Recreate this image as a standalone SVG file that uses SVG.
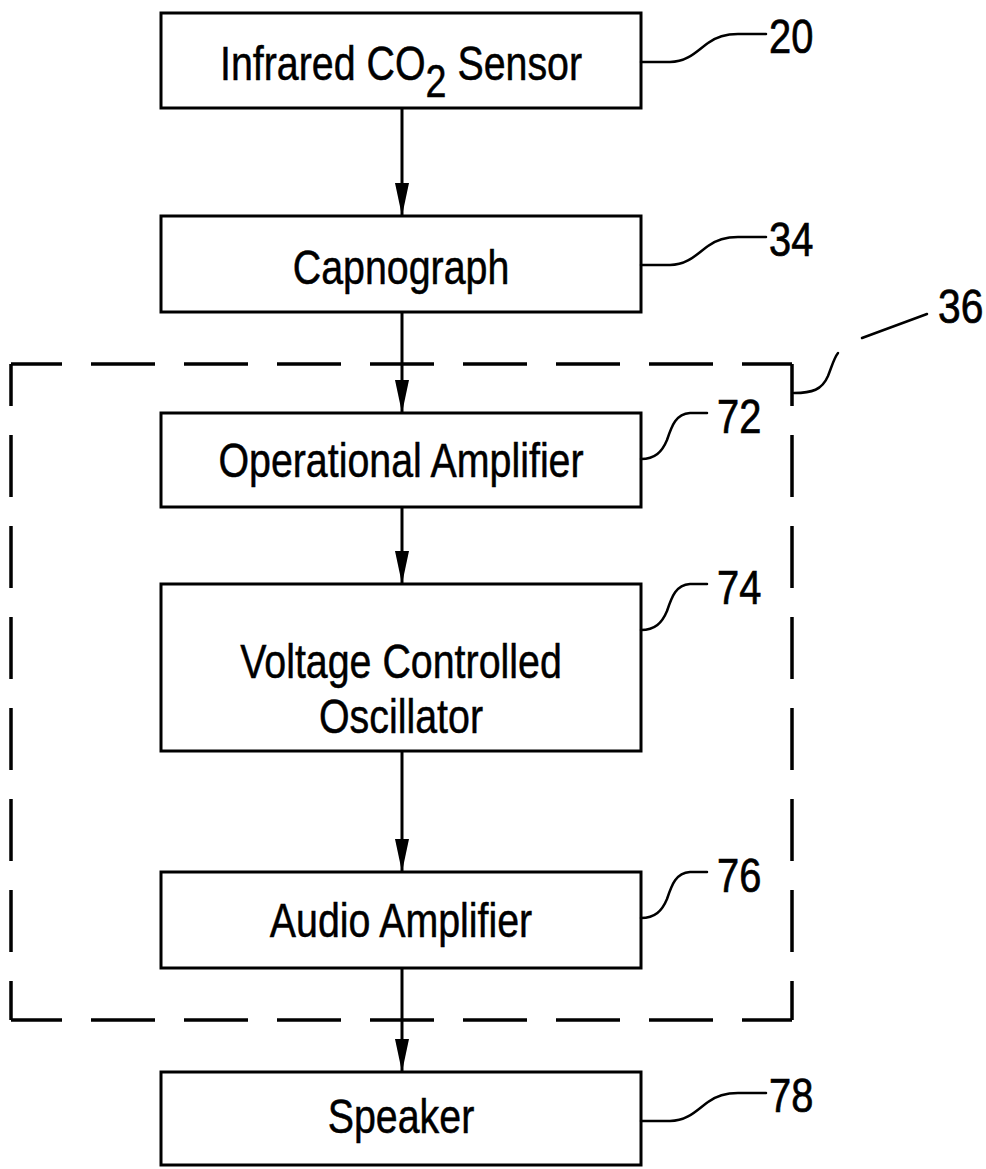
<svg xmlns="http://www.w3.org/2000/svg" width="986" height="1169" viewBox="0 0 986 1169">
  <defs>
    <style>
      .box { fill: #fff; stroke: #000; stroke-width: 3; }
      .lbl { font-family: "Liberation Sans", Arial, sans-serif; font-size: 48px; fill: #000; stroke: #000; stroke-width: 0.5; text-anchor: middle; }
      .num { font-family: "Liberation Sans", Arial, sans-serif; font-size: 48px; fill: #000; stroke: #000; stroke-width: 0.7; }
      .lead { fill: none; stroke: #000; stroke-width: 2.5; stroke-linecap: round; }
      .wire { fill: none; stroke: #000; stroke-width: 3; }
      .dash { fill: none; stroke: #000; stroke-width: 3.5; stroke-dasharray: 62 29; }
      .dashh { fill: none; stroke: #000; stroke-width: 3.5; stroke-dasharray: 64 29; }
    </style>
    <marker id="arrow" markerUnits="userSpaceOnUse" markerWidth="34" markerHeight="16" refX="33" refY="7" orient="auto">
      <path d="M0,0 L33,7 L0,14 Z" fill="#000"/>
    </marker>
  </defs>
  <rect width="986" height="1169" fill="#fff"/>

  <!-- dashed enclosure 36 -->
  <g id="group36">
    <path class="dashh" d="M11 364 H792" stroke-dashoffset="13"/>
    <path class="dashh" d="M11 1020 H792" stroke-dashoffset="13"/>
    <path class="dash" d="M11 364 V1020" stroke-dashoffset="20"/>
    <path class="dash" d="M792 364 V1020" stroke-dashoffset="20"/>
    <path class="lead" d="M794 393 C812 393, 822 390, 828 376 C832 366, 834 358, 838 353"/>
    <path class="lead" d="M862 338 L927 314"/>
    <g transform="translate(938 323) scale(0.85 1)"><text class="num" x="0" y="0">36</text></g>
  </g>

  <!-- connectors -->
  <g id="connectors">
    <path class="wire" d="M402 108 V216" marker-end="url(#arrow)"/>
    <path class="wire" d="M402 312 V413" marker-end="url(#arrow)"/>
    <path class="wire" d="M402 507 V584" marker-end="url(#arrow)"/>
    <path class="wire" d="M402 751 V872" marker-end="url(#arrow)"/>
    <path class="wire" d="M402 968 V1072" marker-end="url(#arrow)"/>
  </g>

  <g id="sensor20">
    <rect class="box" x="161" y="13" width="480" height="95"/>
    <g transform="translate(401 80) scale(0.82 1)">
      <text class="lbl" x="0" y="0">Infrared CO<tspan font-size="46" dy="17">2</tspan><tspan dy="-17"> Sensor</tspan></text>
    </g>
    <path class="lead" d="M641 62 L670 62 C688 62, 698 50, 708 43 C716 37, 724 34, 738 34 L766 34"/>
    <g transform="translate(769 53) scale(0.83 1)"><text class="num" x="0" y="0">20</text></g>
  </g>

  <g id="capnograph34">
    <rect class="box" x="161" y="216" width="480" height="96"/>
    <g transform="translate(401 284) scale(0.82 1)"><text class="lbl" x="0" y="0">Capnograph</text></g>
    <path class="lead" d="M641 265 L670 265 C688 265, 698 253, 708 246 C716 240, 724 237, 738 237 L766 237"/>
    <g transform="translate(769 256) scale(0.83 1)"><text class="num" x="0" y="0">34</text></g>
  </g>

  <g id="opamp72">
    <rect class="box" x="161" y="413" width="480" height="94"/>
    <g transform="translate(401 477) scale(0.82 1)"><text class="lbl" x="0" y="0">Operational Amplifier</text></g>
    <path class="lead" d="M641 459 C655 459, 662 452, 667 440 C672 425, 676 414, 690 413 L707 413"/>
    <g transform="translate(717 433) scale(0.83 1)"><text class="num" x="0" y="0">72</text></g>
  </g>

  <g id="vco74">
    <rect class="box" x="161" y="584" width="480" height="167"/>
    <g transform="translate(401 678) scale(0.82 1)"><text class="lbl" x="0" y="0">Voltage Controlled</text></g>
    <g transform="translate(401 733) scale(0.82 1)"><text class="lbl" x="0" y="0">Oscillator</text></g>
    <path class="lead" d="M641 630 C655 630, 662 623, 667 611 C672 596, 676 585, 690 584 L707 584"/>
    <g transform="translate(717 604) scale(0.83 1)"><text class="num" x="0" y="0">74</text></g>
  </g>

  <g id="audio76">
    <rect class="box" x="161" y="872" width="480" height="96"/>
    <g transform="translate(401 937) scale(0.82 1)"><text class="lbl" x="0" y="0">Audio Amplifier</text></g>
    <path class="lead" d="M641 918 C655 918, 662 911, 667 899 C672 884, 676 873, 690 872 L707 872"/>
    <g transform="translate(717 892) scale(0.83 1)"><text class="num" x="0" y="0">76</text></g>
  </g>

  <g id="speaker78">
    <rect class="box" x="161" y="1072" width="480" height="93"/>
    <g transform="translate(401 1133) scale(0.82 1)"><text class="lbl" x="0" y="0">Speaker</text></g>
    <path class="lead" d="M641 1121 L670 1121 C688 1121, 698 1109, 708 1102 C716 1096, 724 1093, 738 1093 L766 1093"/>
    <g transform="translate(769 1112) scale(0.83 1)"><text class="num" x="0" y="0">78</text></g>
  </g>
</svg>
